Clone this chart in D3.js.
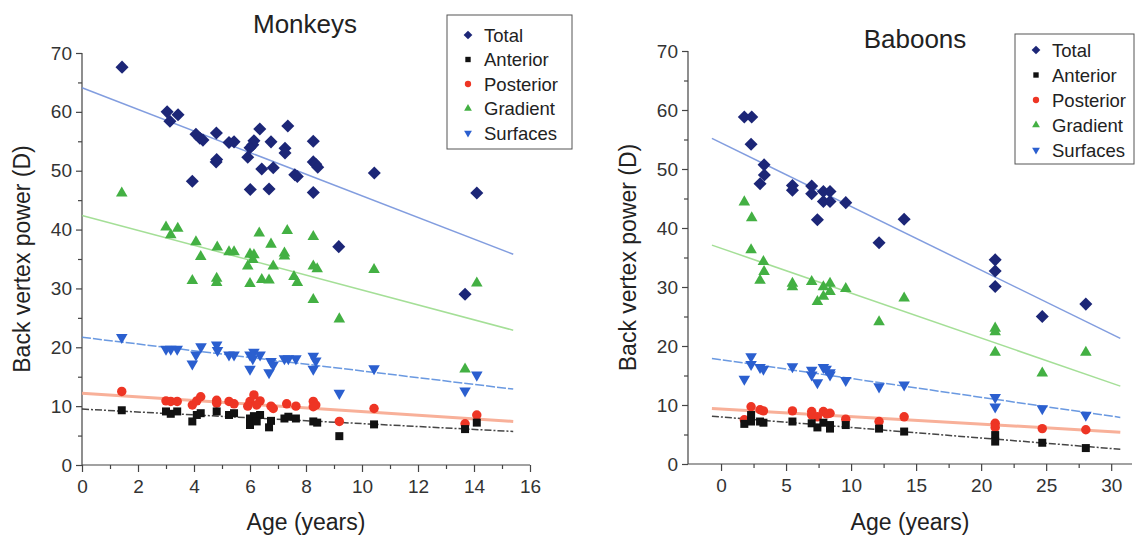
<!DOCTYPE html>
<html>
<head>
<meta charset="utf-8">
<script src="https://cdnjs.cloudflare.com/ajax/libs/d3/7.8.5/d3.min.js"></script>
<style>
  body { margin: 0; background: #fff; }
  svg { font-family: "Liberation Sans", Arial, sans-serif; }
</style>
</head>
<body>
<svg id="chart" width="1138" height="535"></svg>
<script>
// ---- data: [age, power] ----
var seriesNames = ['Total', 'Anterior', 'Posterior', 'Gradient', 'Surfaces'];
var yTicks = [0, 10, 20, 30, 40, 50, 60, 70];
var monkeyXTicks = [0, 2, 4, 6, 8, 10, 12, 14, 16];
var baboonXTicks = [0, 5, 10, 15, 20, 25, 30];

var monkeyTotal = [[1.43,67.6],[3.04,60.0],[3.14,58.4],[3.43,59.5],[4.07,56.2],[4.21,55.5],[4.32,55.2],
  [4.8,56.4],[4.79,51.5],[4.81,51.9],[3.94,48.2],[5.25,54.8],[5.43,54.9],[6.35,57.1],[6.14,55.1],[6.1,54.4],
  [6.0,53.9],[5.92,52.3],[6.75,54.9],[6.42,50.3],[6.83,50.5],[6.01,46.8],[6.68,46.9],[7.35,57.6],[7.25,53.8],
  [7.25,53.0],[7.6,49.3],[7.69,49.0],[8.26,55.0],[8.26,51.5],[8.35,51.1],[8.42,50.6],[8.26,46.3],[9.17,37.1],
  [10.44,49.6],[14.1,46.2],[13.68,29.0]];
var monkeyAnterior = [[1.42,9.3],[3.0,9.1],[3.17,8.7],[3.4,9.1],[3.94,7.4],[4.1,8.5],[4.24,8.8],[4.81,9.1],
  [5.25,8.5],[5.43,8.8],[6.0,7.9],[6.14,8.3],[6.36,8.5],[6.0,6.8],[6.24,7.4],[6.68,6.4],[6.75,7.5],[7.23,7.9],
  [7.37,8.2],[7.64,7.9],[8.26,7.4],[8.4,7.2],[9.19,4.9],[10.43,6.9],[13.68,6.1],[14.1,7.2]];
var monkeyPosterior = [[1.42,12.5],[3.0,10.9],[3.17,10.8],[3.4,10.8],[3.94,10.2],[4.1,10.9],[4.24,11.6],
  [4.81,11.0],[4.81,10.5],[5.25,10.8],[5.43,10.4],[6.0,10.8],[6.14,11.9],[6.36,10.9],[5.92,10.0],[6.24,10.2],
  [6.75,10.0],[6.83,9.6],[7.31,10.4],[7.64,10.0],[8.26,10.8],[8.35,10.2],[8.26,9.9],[9.19,7.4],[10.43,9.6],
  [13.68,7.0],[14.1,8.5]];
var monkeyGradient = [[1.42,46.2],[3.0,40.4],[3.17,39.1],[3.42,40.2],[6.33,39.4],[7.33,39.8],[8.26,38.8],
  [4.07,37.9],[4.83,37.0],[4.24,35.4],[5.25,36.2],[5.43,36.2],[6.0,35.8],[6.14,35.7],[6.1,34.9],[5.92,33.8],
  [6.75,37.5],[6.83,33.8],[7.23,36.0],[7.23,35.5],[8.26,33.8],[8.4,33.3],[3.94,31.3],[4.81,31.7],[4.81,31.0],
  [6.0,30.8],[6.42,31.5],[6.68,31.4],[7.57,32.0],[7.69,31.0],[8.26,28.1],[9.19,24.8],[10.43,33.2],[14.1,30.9],
  [13.68,16.3]];
var monkeySurfaces = [[1.42,21.7],[3.0,19.7],[3.17,19.7],[3.4,19.7],[4.25,20.1],[4.07,18.7],[3.94,17.2],
  [4.81,20.4],[4.84,19.5],[5.25,18.7],[5.43,18.7],[6.0,18.7],[6.14,19.2],[6.36,18.7],[6.1,18.1],[6.0,16.3],
  [6.75,17.6],[6.83,17.0],[6.68,15.7],[7.23,18.1],[7.37,18.1],[7.64,18.1],[8.26,18.5],[8.35,17.7],[8.26,16.3],
  [9.19,12.2],[10.43,16.4],[13.68,12.6],[14.1,15.3]];

var baboonTotal = [[1.79,58.8],[2.36,58.8],[2.31,54.2],[3.31,50.7],[3.33,49.0],[3.0,47.5],[5.49,47.2],
  [5.49,46.4],[6.97,47.1],[6.97,45.8],[7.41,41.4],[7.87,46.2],[8.38,46.2],[7.87,44.5],[8.38,44.5],[9.59,44.3],
  [12.15,37.5],[14.08,41.5],[21.08,34.6],[21.08,32.7],[21.08,30.1],[24.7,25.0],[28.05,27.1]];
var baboonAnterior = [[1.79,6.8],[2.31,8.3],[2.31,7.2],[3.0,7.2],[3.26,7.0],[5.49,7.2],[6.97,6.9],[7.41,6.2],
  [7.87,7.0],[8.38,6.6],[8.38,6.0],[9.59,6.6],[12.15,6.0],[14.08,5.5],[21.08,4.9],[21.08,3.8],[24.7,3.6],[28.05,2.7]];
var baboonPosterior = [[2.31,9.7],[1.79,7.5],[3.0,9.2],[3.26,9.0],[5.49,9.0],[6.97,8.9],[6.97,8.3],[7.41,8.0],
  [7.87,8.9],[8.38,8.6],[8.13,8.5],[9.59,7.6],[12.15,7.2],[14.08,8.0],[21.08,6.9],[21.08,6.2],[24.7,6.0],[28.05,5.8]];
var baboonGradient = [[1.79,44.4],[2.36,41.7],[2.31,36.3],[3.26,34.3],[3.31,32.6],[3.0,31.1],[5.49,30.6],
  [5.49,30.0],[6.97,30.9],[7.87,30.0],[8.38,30.6],[8.38,29.2],[7.87,28.4],[7.41,27.5],[9.59,29.7],[12.15,24.1],
  [14.08,28.1],[21.08,23.0],[21.08,22.4],[21.08,18.9],[24.7,15.4],[28.05,18.9]];
var baboonSurfaces = [[2.31,18.2],[2.31,16.9],[1.79,14.4],[3.0,16.4],[3.26,16.1],[5.49,16.5],[6.97,15.9],
  [6.97,15.1],[7.41,13.8],[7.87,16.4],[8.08,16.1],[8.38,15.5],[8.38,15.1],[9.59,14.2],[12.15,13.1],[14.08,13.4],
  [21.08,11.3],[21.08,9.7],[24.7,9.4],[28.05,8.3]];

// regression line end points [x0, y0, x1, y1] per series
var monkeyFits = [[0,64.1,15.4,35.8],[0,9.5,15.4,5.7],[0,12.2,15.4,7.4],[0,42.4,15.4,22.9],[0,21.7,15.4,12.9]];
var baboonFits = [[-0.7,55.2,30.7,21.3],[-0.7,8.1,30.7,2.5],[-0.7,9.4,30.7,5.4],[-0.7,37.1,30.7,13.2],[-0.7,17.9,30.7,7.9]];

// ---- styles ----
var markColors = ['#1c2677', '#111111', '#ee3524', '#43b043', '#2b5fcf'];
var lineColors = ['#7593dc', '#333333', '#f8a88e', '#9bdc8c', '#5a8ede'];
var lineWidths = [1.5, 1.5, 3, 1.5, 1.5];
var lineDash = [null, '7,2,2,2', null, null, '9,2'];

var svg = d3.select('#chart');

function markerPath(i, big) {
    var k = big ? 1 : 0.45;
    if (i === 0) return d3.symbol().type(d3.symbolSquare).size(85 * k)();
    if (i === 1) return d3.symbol().type(d3.symbolSquare).size(64 * k)();
    if (i === 2) return d3.symbol().type(d3.symbolCircle).size(70 * k)();
    return d3.symbol().type(d3.symbolTriangle).size(58 * k)();
}
function markerRot(i) {
    if (i === 0) return ' rotate(45)';
    if (i === 4) return ' rotate(180)';
    return '';
}

function drawPanel(opt) {
    var x = d3.scaleLinear().domain(opt.xDomain).range([opt.left, opt.right]);
    var y = d3.scaleLinear().domain([0, 70]).range([opt.bottom, opt.top]);
    var g = svg.append('g');

    // axes
    var yAxis = d3.axisLeft(y).tickValues(d3.range(0, 71, 5)).tickSize(6).tickPadding(4)
        .tickFormat(function (d) { return yTicks.indexOf(d) >= 0 ? d : ''; });
    var ya = g.append('g').attr('transform', 'translate(' + opt.left + ',0)').call(yAxis);
    ya.selectAll('.tick line').attr('x2', function (d) { return d % 10 === 0 ? -6 : -4; });

    var xAxis = d3.axisBottom(x).tickValues(opt.minor).tickSize(7)
        .tickFormat(function (d) { return opt.xTicks.indexOf(d) >= 0 ? d : ''; });
    var xa = g.append('g').attr('transform', 'translate(0,' + opt.bottom + ')').call(xAxis);
    xa.selectAll('.tick line').attr('y2', function (d) { return opt.xTicks.indexOf(d) >= 0 ? 7 : 4; });
    xa.select('.domain').attr('d', 'M' + opt.left + ',0H' + opt.right);
    ya.select('.domain').attr('d', 'M0,' + opt.bottom + 'V' + opt.top);

    [ya, xa].forEach(function (a) {
        a.selectAll('.domain, .tick line').attr('stroke', '#444').attr('stroke-width', 1.2);
        a.selectAll('text').attr('fill', '#333').style('font-size', '19px');
    });
    xa.selectAll('text').attr('dy', '0.95em');

    // fit lines
    g.selectAll('line.fit').data(opt.fits).enter().append('line')
        .attr('class', 'fit')
        .attr('x1', function (d) { return x(d[0]); })
        .attr('y1', function (d) { return y(d[1]); })
        .attr('x2', function (d) { return x(d[2]); })
        .attr('y2', function (d) { return y(d[3]); })
        .attr('stroke', function (d, i) { return lineColors[i]; })
        .attr('stroke-width', function (d, i) { return lineWidths[i]; })
        .attr('stroke-dasharray', function (d, i) { return lineDash[i]; })
        .attr('opacity', 0.9);

    // points, drawn so Total sits on top
    [3, 4, 2, 1, 0].forEach(function (i) {
        g.append('g').selectAll('path').data(opt.series[i]).enter().append('path')
            .attr('d', markerPath(i, true))
            .attr('transform', function (d) { return 'translate(' + x(d[0]) + ',' + y(d[1]) + ')' + markerRot(i); })
            .attr('fill', markColors[i]);
    });

    // titles
    g.append('text').attr('x', opt.titleX).attr('y', opt.titleY).attr('text-anchor', 'middle')
        .attr('fill', '#222').style('font-size', '26px').text(opt.title);
    g.append('text').attr('x', (opt.left + opt.right) / 2 + opt.xLabelShift).attr('y', 530).attr('text-anchor', 'middle')
        .attr('fill', '#222').style('font-size', '23px').text('Age (years)');
    g.append('text').attr('transform', 'translate(' + opt.yLabelX + ',' + ((opt.top + opt.bottom) / 2) + ') rotate(-90)')
        .attr('text-anchor', 'middle').attr('fill', '#222').style('font-size', '23px').text('Back vertex power (D)');

    // legend
    var lg = g.append('g').attr('transform', 'translate(' + opt.legend[0] + ',' + opt.legend[1] + ')');
    lg.append('rect').attr('width', opt.legend[2]).attr('height', opt.legend[3])
        .attr('fill', '#fff').attr('stroke', '#555').attr('stroke-width', 1);
    seriesNames.forEach(function (name, i) {
        var ly = opt.legend[4] + i * opt.legend[5];
        lg.append('path').attr('d', markerPath(i, false))
            .attr('transform', 'translate(21,' + ly + ')' + markerRot(i))
            .attr('fill', markColors[i]);
        lg.append('text').attr('x', 37).attr('y', ly + 6.5).attr('fill', '#222')
            .style('font-size', '18.5px').text(name);
    });
}

drawPanel({
    xDomain: [0, 16], left: 82, right: 530, top: 53, bottom: 465,
    xTicks: monkeyXTicks, minor: d3.range(0, 17, 1),
    fits: monkeyFits,
    series: [monkeyTotal, monkeyAnterior, monkeyPosterior, monkeyGradient, monkeySurfaces],
    title: 'Monkeys', titleX: 305, titleY: 33, xLabelShift: 0, yLabelX: 30,
    legend: [447, 15, 125, 134, 20, 24.5]
});
drawPanel({
    xDomain: [-2.54, 31.6], left: 688, right: 1132, top: 51, bottom: 464,
    xTicks: baboonXTicks, minor: d3.range(0, 31, 2.5),
    fits: baboonFits,
    series: [baboonTotal, baboonAnterior, baboonPosterior, baboonGradient, baboonSurfaces],
    title: 'Baboons', titleX: 915, titleY: 48, xLabelShift: 0, yLabelX: 636,
    legend: [1015, 34, 119, 130, 16, 25]
});
</script>
</body>
</html>
